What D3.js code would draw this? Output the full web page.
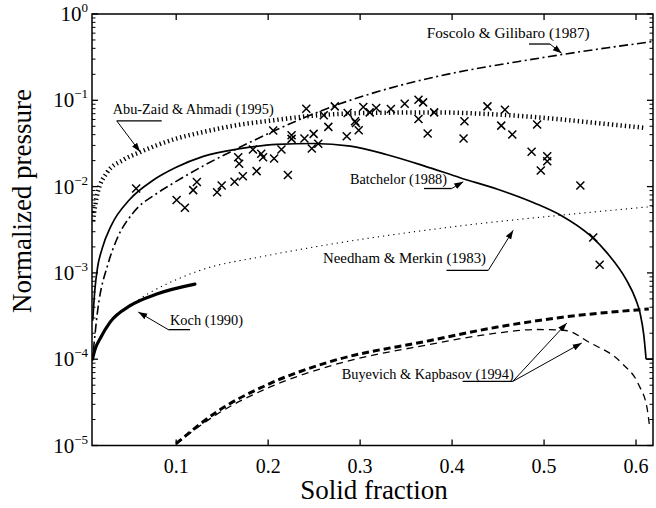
<!DOCTYPE html>
<html><head><meta charset="utf-8">
<script src="https://cdn.jsdelivr.net/npm/d3@7"></script>
<style>
html,body{margin:0;padding:0;background:#fff;}
svg{display:block;}
svg text{font-family:"Liberation Serif","DejaVu Serif",serif !important;}
</style></head>
<body><svg id="chart" width="656" height="508"></svg>
<script>
// ---------- data ----------
const xTicks = [0.1, 0.2, 0.3, 0.4, 0.5, 0.6];
const xTickLabels = ["0.1", "0.2", "0.3", "0.4", "0.5", "0.6"];
const yDecades = [-5, -4, -3, -2, -1, 0];
const yTickLabels = ["−5", "−4", "−3", "−2", "−1", "0"];

// experimental points (crosses)
const expX = [0.057,0.101,0.110,0.119,0.123,0.145,0.150,0.164,0.173,0.188,0.168,0.169,0.184,0.193,0.195,0.207,0.215,0.222,0.206,0.226,0.226,0.240,0.242,0.250,0.248,0.255,0.261,0.266,0.273,0.286,0.287,0.295,0.296,0.299,0.304,0.311,0.318,0.334,0.349,0.364,0.369,0.364,0.381,0.374,0.414,0.413,0.439,0.458,0.454,0.466,0.493,0.487,0.504,0.504,0.497,0.540,0.554,0.561];
const expY = [0.0095,0.0070,0.0057,0.0091,0.0113,0.0086,0.0103,0.0114,0.0132,0.0151,0.0219,0.0184,0.0269,0.0240,0.0219,0.0212,0.0269,0.0136,0.0446,0.0393,0.0357,0.0360,0.080,0.0408,0.0276,0.0313,0.067,0.0492,0.0851,0.0383,0.0713,0.0571,0.0547,0.0449,0.0837,0.0725,0.0815,0.0794,0.0914,0.1016,0.0946,0.0608,0.0725,0.0412,0.0571,0.0360,0.0851,0.0779,0.0509,0.0401,0.0523,0.0253,0.0225,0.0197,0.0154,0.0103,0.00257,0.00124];

// Batchelor (1988)
const batchX = [0.0098,0.012,0.015,0.02,0.03,0.05,0.075,0.1,0.13,0.17,0.21,0.25,0.29,0.33,0.37,0.41,0.45,0.49,0.52,0.55,0.57,0.59,0.60,0.605,0.609,0.6115,0.619];
const batchY = [2.8e-4,6.2e-4,1.15e-3,1.91e-3,3.55e-3,7.08e-3,0.01175,0.0166,0.0224,0.0275,0.0309,0.0316,0.0295,0.0234,0.0174,0.0126,0.00933,0.00646,0.00457,0.00275,0.00166,8.3e-4,5.0e-4,3.4e-4,1.9e-4,1.0e-4,1.0e-4];

// Foscolo & Gilibaro (1987)
const fosX = [0.0105,0.015,0.0269,0.036,0.054,0.0794,0.0974,0.13,0.161,0.182,0.206,0.24,0.2709,0.3071,0.3433,0.3794,0.4156,0.4734,0.5168,0.57,0.619];
const fosY = [1.26e-4,3.55e-4,1.32e-3,2.45e-3,5.01e-3,8.32e-3,0.01096,0.01738,0.0257,0.0331,0.0437,0.0631,0.0851,0.1148,0.148,0.184,0.221,0.282,0.335,0.407,0.479];

// Abu-Zaid & Ahmadi (1995)
const abuX = [0.0100,0.0143,0.0252,0.0432,0.0613,0.0974,0.1336,0.1697,0.2059,0.2421,0.3071,0.3794,0.4517,0.5024,0.5566,0.6108];
const abuY = [3.98e-3,7.76e-3,0.01445,0.0204,0.0251,0.0351,0.0438,0.0522,0.0586,0.0652,0.0713,0.0724,0.0682,0.0624,0.0547,0.0479];

// Needham & Merkin (1983)
const needX = [0.05,0.07,0.09,0.1264,0.1987,0.2674,0.3758,0.43,0.5204,0.619];
const needY = [4.17e-4,5.75e-4,7.41e-4,1.07e-3,1.58e-3,2.14e-3,3.16e-3,3.72e-3,4.68e-3,5.89e-3];

// Koch (1990)
const kochX = [0.0095,0.0125,0.0179,0.0287,0.0504,0.0794,0.1209];
const kochY = [1.0e-4,1.32e-4,1.74e-4,2.69e-4,4.17e-4,5.69e-4,7.41e-4];

// Buyevich & Kapbasov (1994), two curves
const buy1X = [0.1005,0.1445,0.1987,0.2674,0.3758,0.4482,0.5204,0.6144];
const buy1Y = [1.05e-5,2.45e-5,5.01e-5,9.33e-5,1.64e-4,2.34e-4,3.06e-4,3.82e-4];
const buy2X = [0.1005,0.1445,0.1987,0.2674,0.3758,0.4482,0.4916,0.5241,0.549,0.5855,0.6036,0.6126,0.6155];
const buy2Y = [1.05e-5,2.29e-5,4.57e-5,8.32e-5,1.48e-4,2.0e-4,2.21e-4,2.15e-4,1.58e-4,8.91e-5,5.01e-5,2.69e-5,1.58e-5];

// annotation labels (text, anchor in data units)
const annoText = ["Foscolo & Gilibaro (1987)","Abu-Zaid & Ahmadi (1995)","Batchelor (1988)","Needham & Merkin (1983)","Koch (1990)","Buyevich & Kapbasov (1994)"];
const annoX = [0.3729,0.0315,0.2895,0.2602,0.0938,0.2805];
const annoY = [0.527,0.0692,0.01067,0.00129,2.47e-4,5.83e-5];
const annoW = [163,161,97,163,73,172];
// leader lines: underline start, underline end, then arrow tip(s)
const leaders = [
  {u:[[0.4842,0.449],[0.507,0.449]], from:1, tips:[[0.5197,0.350]]},
  {u:[[0.0359,0.0578],[0.0848,0.0578]], from:0, tips:[[0.0612,0.0253]]},
  {u:[[0.370,0.0095],[0.4001,0.0095]], from:1, tips:[[0.4127,0.01135]]},
  {u:[[0.3944,0.00107],[0.4399,0.00107]], from:1, tips:[[0.467,0.00312]]},
  {u:[[0.092,2.2e-4],[0.1156,2.2e-4]], from:0, tips:[[0.0593,3.52e-4]]},
  {u:[[0.412,5.52e-5],[0.4664,5.52e-5]], from:1, tips:[[0.5252,2.62e-4],[0.5415,1.54e-4]]}
];

// ---------- layout ----------
const FONT = "Liberation Serif, DejaVu Serif, serif";
const svg = d3.select("#chart").attr("font-family", FONT);
const L = 92, R = 653, T = 14, B = 445.5;
const x = d3.scaleLinear().domain([0.009, 0.619]).range([L, R]);
const y = d3.scaleLog().domain([1e-5, 1]).range([B, T]);

const defs = svg.append("defs");
defs.append("clipPath").attr("id","clip")
  .append("rect").attr("x",L).attr("y",T).attr("width",R-L).attr("height",B-T);
defs.append("marker").attr("id","arr").attr("viewBox","0 0 10 10")
  .attr("refX",10).attr("refY",5).attr("markerWidth",9).attr("markerHeight",9)
  .attr("markerUnits","userSpaceOnUse").attr("orient","auto")
  .append("path").attr("d","M0,1.5 L10,5 L0,8.5 Z").attr("fill","#000");

const plot = svg.append("g").attr("clip-path","url(#clip)");
const line = d3.line().x(d => x(d[0])).y(d => y(d[1])).curve(d3.curveMonotoneX);
const straight = d3.line().x(d => x(d[0])).y(d => y(d[1]));
const zip = (a, b) => a.map((v, i) => [v, b[i]]);

function curve(pts, style, gen) {
  const p = plot.append("path").datum(pts).attr("d", gen || line)
    .attr("fill","none").attr("stroke","#000");
  Object.entries(style).forEach(([k,v]) => p.attr(k,v));
}
curve(zip(needX, needY), {"stroke-width":1.1, "stroke-dasharray":"1.2,4"});
curve(zip(abuX, abuY), {"stroke-width":4.5, "stroke-dasharray":"1.3,3"});
curve(zip(fosX, fosY), {"stroke-width":1.6, "stroke-dasharray":"9,3.5,2,3.5"});
const bp = zip(batchX, batchY);
curve(bp.slice(0, -1), {"stroke-width":1.7});
curve(bp.slice(-2), {"stroke-width":1.7}, straight);
curve(zip(kochX, kochY), {"stroke-width":3.2, "stroke-linecap":"round"});
curve(zip(buy2X, buy2Y), {"stroke-width":1.3, "stroke-dasharray":"7,5"});
curve(zip(buy1X, buy1Y), {"stroke-width":3, "stroke-dasharray":"7,4"});

// crosses
const cs = 4;
plot.append("g").selectAll("path").data(zip(expX, expY)).join("path")
  .attr("d", d => {
    const cx = x(d[0]), cy = y(d[1]);
    return `M${cx-cs},${cy-cs}L${cx+cs},${cy+cs}M${cx-cs},${cy+cs}L${cx+cs},${cy-cs}`;
  })
  .attr("stroke","#000").attr("stroke-width",1.5).attr("fill","none");

// frame
svg.append("rect").attr("x",L).attr("y",T).attr("width",R-L).attr("height",B-T)
  .attr("fill","none").attr("stroke","#000").attr("stroke-width",1.5);

// x ticks (bottom & top, inward)
svg.append("g").attr("transform",`translate(0,${B})`)
  .call(d3.axisBottom(x).tickValues(xTicks).tickSize(-6).tickPadding(13)
        .tickFormat((d,i) => xTickLabels[i]))
  .attr("font-family", FONT)
  .call(g => g.select(".domain").remove())
  .call(g => g.selectAll("line").attr("stroke-width",1.3))
  .call(g => g.selectAll("text").attr("font-size",20).attr("font-family",FONT).attr("fill","#000"));
svg.append("g").attr("transform",`translate(0,${T})`)
  .call(d3.axisTop(x).tickValues(xTicks).tickSize(-6).tickFormat(""))
  .call(g => g.select(".domain").remove())
  .call(g => g.selectAll("line").attr("stroke-width",1.3));

// y ticks: majors and minors on both sides
const yMinor = [];
yDecades.slice(0,-1).forEach(e => { for (let k=2;k<=9;k++) yMinor.push(k*Math.pow(10,e)); });
const yMajor = yDecades.map(e => Math.pow(10,e));
[[L,1],[R,-1]].forEach(([xx,dir]) => {
  svg.append("g").selectAll("line").data(yMajor).join("line")
    .attr("x1",xx).attr("x2",xx+dir*6).attr("y1",d=>y(d)).attr("y2",d=>y(d))
    .attr("stroke","#000").attr("stroke-width",1.3);
  svg.append("g").selectAll("line").data(yMinor).join("line")
    .attr("x1",xx).attr("x2",xx+dir*3.5).attr("y1",d=>y(d)).attr("y2",d=>y(d))
    .attr("stroke","#000").attr("stroke-width",1);
});

// y tick labels 10^n
const yl = svg.append("g").selectAll("text").data(yMajor).join("text")
  .attr("x", L-4).attr("y", d => y(d)+7).attr("text-anchor","end")
  .attr("font-family",FONT).attr("font-size",21).attr("fill","#000");
yl.append("tspan").text("10");
yl.append("tspan").attr("dy",-9).attr("font-size",13).text((d,i) => yTickLabels[i]);

// axis titles
svg.append("text").attr("x",374).attr("y",499).attr("text-anchor","middle")
  .attr("font-family",FONT).attr("font-size",27).attr("fill","#000").text("Solid fraction");
svg.append("text").attr("transform","translate(31,201) rotate(-90)").attr("text-anchor","middle")
  .attr("font-family",FONT).attr("font-size",27).attr("fill","#000").text("Normalized pressure");

// annotations
svg.append("g").selectAll("text").data(annoText).join("text")
  .attr("x",(d,i)=>x(annoX[i])).attr("y",(d,i)=>y(annoY[i]))
  .attr("font-family",FONT).attr("font-size",14).attr("fill","#000")
  .attr("textLength",(d,i)=>annoW[i]).attr("lengthAdjust","spacingAndGlyphs")
  .text(d=>d);
const lg = svg.append("g").attr("stroke","#000").attr("fill","none").attr("stroke-width",1);
leaders.forEach(ld => {
  lg.append("line").attr("x1",x(ld.u[0][0])).attr("y1",y(ld.u[0][1]))
    .attr("x2",x(ld.u[1][0])).attr("y2",y(ld.u[1][1])).attr("stroke-width",1.3);
  const s = ld.u[ld.from];
  ld.tips.forEach(t => {
    lg.append("line").attr("x1",x(s[0])).attr("y1",y(s[1]))
      .attr("x2",x(t[0])).attr("y2",y(t[1])).attr("marker-end","url(#arr)");
  });
});
</script></body></html>
